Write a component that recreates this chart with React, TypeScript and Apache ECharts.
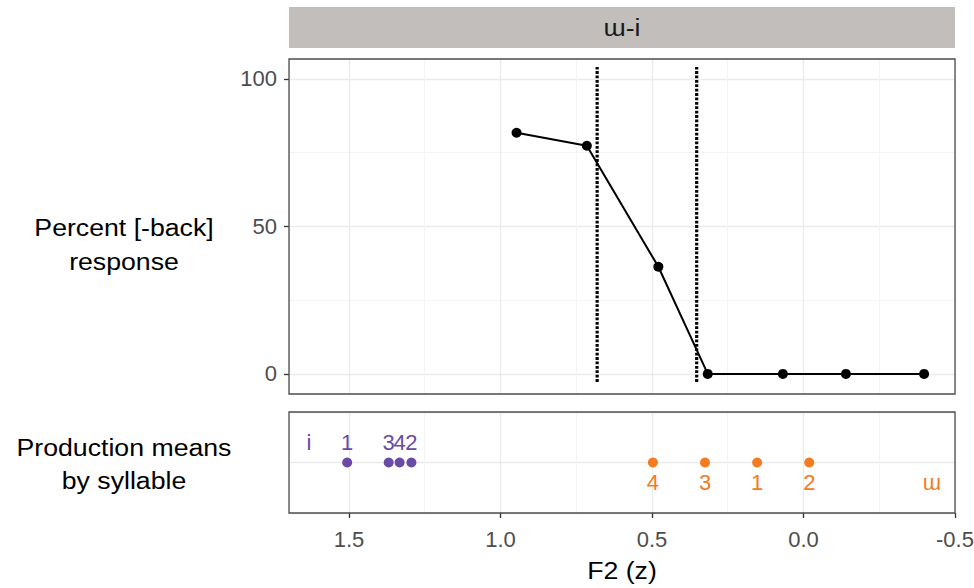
import React, { useEffect, useRef } from "react";
import * as echarts from "echarts";

// ---- data ----
const stimulusF2 = [0.947, 0.715, 0.479, 0.316, 0.068, -0.14, -0.398];
const percentBack = [81.7, 77.3, 36.3, 0, 0, 0, 0];
const boundaryF2 = [0.681, 0.3525];
const boundarySpan = [-2.7, 104];
const iMeans = [1.506, 1.369, 1.333, 1.294];
const iSyllables = ["1", "3", "4", "2"];
const uMeans = [0.497, 0.325, 0.153, -0.019];
const uSyllables = ["4", "3", "1", "2"];
const vowelLabels = ["i", "ɯ"];
const vowelLabelF2 = [1.632, -0.424];
const xTicks = [1.5, 1.0, 0.5, 0.0, -0.5];
const yTicks = [0, 50, 100];
const stripTitle = "ɯ-i";
const xTitle = "F2 (z)";
const yTitleTop = "Percent [-back]\nresponse";
const yTitleBottom = "Production means\nby syllable";

const FONT = "'Liberation Sans', Arial, sans-serif";
const PURPLE = "#6b4aa6";
const ORANGE = "#f47b20";
const MAJOR = "#ebebeb";
const MINOR = "#f4f4f4";
const L = 289, W = 666, T1 = 59, H1 = 335, T2 = 412, H2 = 101;
const X_MIN = -0.5, X_MAX = 1.698;
const Y_MIN = -6.8, Y_MAX = 106.7;

function xAxisDef(grid: number, step: number, color: string, width: number, labels: boolean) {
  return {
    gridIndex: grid, type: "value", position: "bottom", min: X_MIN, max: X_MAX, inverse: true,
    minInterval: step, maxInterval: step,
    axisLine: { show: false, onZero: false },
    axisTick: labels
      ? { show: true, customValues: xTicks, length: 5, lineStyle: { color: "#333", width: 1.3 } }
      : { show: false },
    axisLabel: labels
      ? { show: true, customValues: xTicks, formatter: (v: number) => v.toFixed(1), fontSize: 22, color: "#4d4d4d", fontFamily: FONT, margin: 15 }
      : { show: false },
    splitLine: { show: true, lineStyle: { color, width } },
  };
}

function yAxisDef(grid: number, min: number, max: number, step: number, color: string, width: number, labels: boolean) {
  return {
    gridIndex: grid, type: "value", position: "left", min, max,
    minInterval: step, maxInterval: step,
    axisLine: { show: false, onZero: false },
    axisTick: labels
      ? { show: true, customValues: yTicks, length: 5, lineStyle: { color: "#333", width: 1.3 } }
      : { show: false },
    axisLabel: labels
      ? { show: true, customValues: yTicks, fontSize: 22, color: "#4d4d4d", fontFamily: FONT, margin: 12 }
      : { show: false },
    splitLine: { show: true, lineStyle: { color, width } },
  };
}

export default function App() {
  const ref = useRef<HTMLDivElement>(null);
  useEffect(() => {
    if (!ref.current) return;
    const chart = echarts.init(ref.current, undefined, { renderer: "svg" });
    const titleText = (text: string, x: number, y: number, lh: number) => ({
      type: "text", x, y, scaleX: 1.16, silent: true, z: 50,
      style: { text, fontSize: 23, fontFamily: FONT, fill: "#000", align: "center", verticalAlign: "middle", lineHeight: lh },
    });
    const labelStyle = (color: string, position: string) => ({
      show: true, position, distance: 4, formatter: "{b}", color, fontSize: 22, fontFamily: FONT,
    });
    chart.setOption({
      animation: false,
      backgroundColor: "#fff",
      grid: [
        { left: L, top: T1, width: W, height: H1, outerBoundsMode: "none", containLabel: false },
        { left: L, top: T2, width: W, height: H2, outerBoundsMode: "none", containLabel: false },
      ],
      xAxis: [
        xAxisDef(0, 0.25, MINOR, 1, false),
        xAxisDef(0, 0.5, MAJOR, 1.3, false),
        xAxisDef(1, 0.25, MINOR, 1, false),
        xAxisDef(1, 0.5, MAJOR, 1.3, true),
      ],
      yAxis: [
        yAxisDef(0, Y_MIN, Y_MAX, 25, MINOR, 1, false),
        yAxisDef(0, Y_MIN, Y_MAX, 50, MAJOR, 1.3, true),
        yAxisDef(1, 0, 2, 1, MAJOR, 1.3, false),
      ],
      series: [
        ...boundaryF2.map((b) => ({
          type: "line", xAxisIndex: 1, yAxisIndex: 1, z: 4,
          data: [[b, boundarySpan[0]], [b, boundarySpan[1]]],
          symbol: "none",
          lineStyle: { color: "#000", width: 3.2, type: [2.8, 1.6], cap: "butt" },
        })),
        {
          type: "line", xAxisIndex: 1, yAxisIndex: 1, z: 5,
          data: stimulusF2.map((x, i) => [x, percentBack[i]]),
          symbol: "circle", symbolSize: 10, showSymbol: true,
          itemStyle: { color: "#000", opacity: 1 },
          lineStyle: { color: "#000", width: 2 },
        },
        {
          type: "scatter", xAxisIndex: 3, yAxisIndex: 2,
          data: iMeans.map((x, i) => ({ name: iSyllables[i], value: [x, 1] })),
          symbolSize: 10, itemStyle: { color: PURPLE, opacity: 1 },
          label: labelStyle(PURPLE, "top"),
        },
        {
          type: "scatter", xAxisIndex: 3, yAxisIndex: 2,
          data: uMeans.map((x, i) => ({ name: uSyllables[i], value: [x, 1] })),
          symbolSize: 10, itemStyle: { color: ORANGE, opacity: 1 },
          label: labelStyle(ORANGE, "bottom"),
        },
        {
          type: "scatter", xAxisIndex: 3, yAxisIndex: 2,
          data: [{ name: vowelLabels[0], value: [vowelLabelF2[0], 1] }],
          symbolSize: 10, itemStyle: { color: "rgba(0,0,0,0)", opacity: 1 },
          label: labelStyle(PURPLE, "top"),
        },
        {
          type: "scatter", xAxisIndex: 3, yAxisIndex: 2,
          data: [{ name: vowelLabels[1], value: [vowelLabelF2[1], 1] }],
          symbolSize: 10, itemStyle: { color: "rgba(0,0,0,0)", opacity: 1 },
          label: labelStyle(ORANGE, "bottom"),
        },
      ],
      graphic: [
        { type: "rect", silent: true, z: 40, shape: { x: L, y: 7, width: W, height: 41 }, style: { fill: "#c2bebb" } },
        {
          type: "text", x: L + W / 2, y: 28, scaleX: 1.16, silent: true, z: 50,
          style: { text: stripTitle, fontSize: 23, fontFamily: FONT, fill: "#1a1a1a", align: "center", verticalAlign: "middle" },
        },
        { type: "rect", silent: true, z: 100, shape: { x: L, y: T1, width: W, height: H1 }, style: { fill: "none", stroke: "#4d4d4d", lineWidth: 1.3 } },
        { type: "rect", silent: true, z: 100, shape: { x: L, y: T2, width: W, height: H2 }, style: { fill: "none", stroke: "#4d4d4d", lineWidth: 1.3 } },
        titleText(yTitleTop, 124, 245, 34),
        titleText(yTitleBottom, 124, 464, 33),
        titleText(xTitle, L + W / 2, 571, 26),
      ],
    });
    return () => chart.dispose();
  }, []);
  return <div ref={ref} style={{ position: "fixed", left: 0, top: 0, width: 974, height: 588 }} />;
}
